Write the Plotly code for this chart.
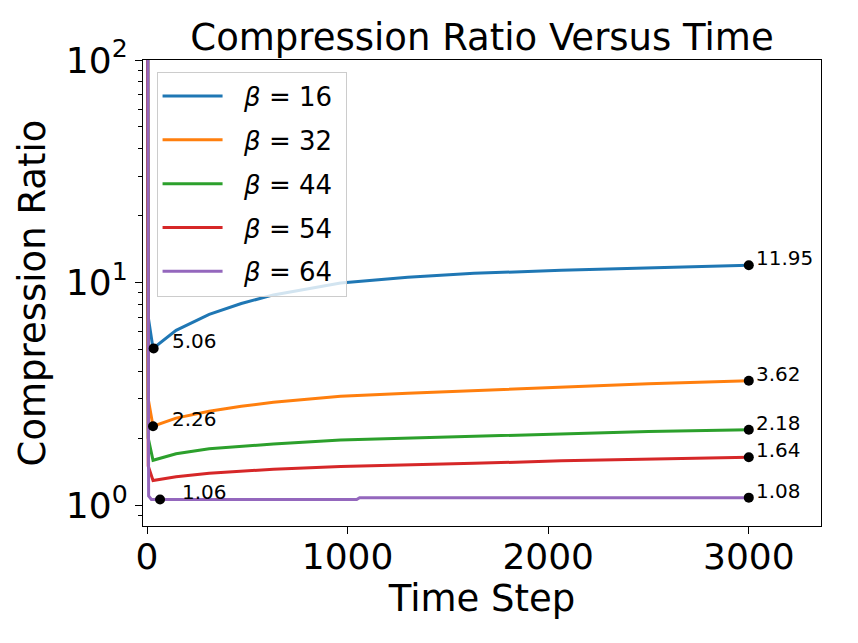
import math
import plotly.graph_objects as go

# ---- data ----
time_steps = [0, 6, 30, 145, 310, 470, 630, 965, 1300, 1630, 2065, 2500, 3000]
ratio_b16 = [10000, 7.0, 5.06, 6.1, 7.2, 8.05, 8.8, 9.95, 10.55, 11.0, 11.35, 11.65, 11.95]
ratio_b32 = [10000, 3.0, 2.26, 2.46, 2.64, 2.78, 2.9, 3.08, 3.18, 3.27, 3.40, 3.51, 3.62]
ratio_b44 = [10000, 2.0, 1.59, 1.70, 1.79, 1.84, 1.88, 1.96, 2.00, 2.04, 2.10, 2.14, 2.18]
ratio_b54 = [10000, 1.5, 1.29, 1.34, 1.39, 1.42, 1.45, 1.49, 1.51, 1.54, 1.58, 1.61, 1.64]
time_b64 = [0, 8, 22, 1045, 1060, 3000]
ratio_b64 = [10000, 1.1, 1.06, 1.06, 1.08, 1.08]

labels = ["16", "32", "44", "54", "64"]
colors = ["#1f77b4", "#ff7f0e", "#2ca02c", "#d62728", "#9467bd"]

# annotated points
mark_x = [33, 30, 65, 3000, 3000, 3000, 3000, 3000]
mark_y = [5.06, 2.26, 1.06, 11.95, 3.62, 2.18, 1.64, 1.08]
mark_text = ["5.06", "2.26", "1.06", "11.95", "3.62", "2.18", "1.64", "1.08"]
text_x = [116, 116, 162, 3028, 3028, 3028, 3028, 3028]

series = [
    (time_steps, ratio_b16),
    (time_steps, ratio_b32),
    (time_steps, ratio_b44),
    (time_steps, ratio_b54),
    (time_b64, ratio_b64),
]

fig = go.Figure()
for i, ((xs, ys), lab, col) in enumerate(zip(series, labels, colors)):
    fig.add_trace(go.Scatter(
        x=xs, y=ys, mode="lines", name=f"\u00a0\u00a0<i>β</i> = {lab}\u00a0",
        line=dict(color=col, width=3), legendgroup=f"g{i}",
    ))

fig.add_trace(go.Scatter(
    x=mark_x, y=mark_y, mode="markers", showlegend=False,
    marker=dict(color="black", size=10),
))

for tx, ty, tt in zip(text_x, mark_y, mark_text):
    fig.add_annotation(
        x=tx, y=math.log10(ty), text=tt, showarrow=False,
        xanchor="left", yanchor="middle", yshift=7,
        font=dict(size=20, color="black"),
    )

font_family = "DejaVu Sans"
fig.update_layout(
    width=858, height=643,
    margin=dict(l=143, r=37, t=60, b=117, autoexpand=False),
    paper_bgcolor="white", plot_bgcolor="white",
    font=dict(family=font_family, color="black"),
    title=dict(text="Compression Ratio Versus Time", x=(143 + 821) / 2 / 858,
               xanchor="center", y=1 - 37 / 643, yanchor="middle",
               font=dict(size=37, color="black")),
    legend=dict(x=0.02, y=0.975, xanchor="left", yanchor="top",
                bgcolor="rgba(255,255,255,0.8)", bordercolor="#cccccc",
                borderwidth=1, font=dict(size=26, color="black"),
                tracegroupgap=7, itemwidth=60),
    showlegend=True,
)
fig.update_xaxes(
    range=[-20, 3360], showgrid=False, zeroline=False,
    showline=True, linecolor="black", linewidth=1.2, mirror=True,
    ticks="outside", ticklen=7, tickwidth=1.2, tickcolor="black",
    tickvals=[0, 1000, 2000, 3000], ticktext=["0", "1000", "2000", "3000"],
    tickfont=dict(size=36, color="black"), ticklabelstandoff=-8,
    title=dict(text="Time Step", font=dict(size=37, color="black"), standoff=4),
)
fig.update_yaxes(
    type="log", range=[-0.094, 2], showgrid=False, zeroline=False,
    showline=True, linecolor="black", linewidth=1.2, mirror=True,
    ticks="outside", ticklen=7, tickwidth=1.2, tickcolor="black",
    tickvals=[1, 10, 100],
    ticktext=["10<sup>0</sup>", "10<sup>1</sup>", "10<sup>2</sup>"],
    tickfont=dict(size=36, color="black"),
    minor=dict(ticks="outside", ticklen=4, tickwidth=1, tickcolor="black",
               dtick="D1", showgrid=False),
    title=dict(text="Compression Ratio", font=dict(size=37, color="black"), standoff=8),
)

fig.write_html("out.html", config={"displayModeBar": False},
               post_script="document.body.style.margin='0px';")
